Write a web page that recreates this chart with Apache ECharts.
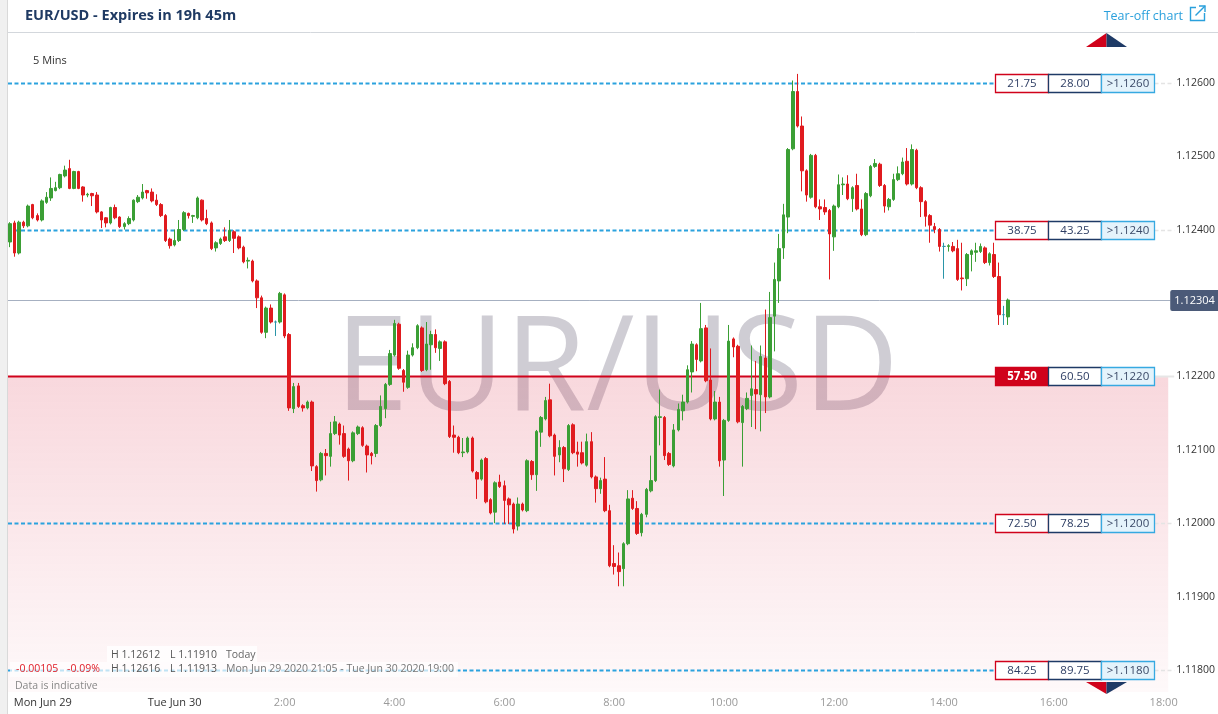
<!DOCTYPE html>
<html><head><meta charset="utf-8">
<script src="https://cdn.jsdelivr.net/npm/echarts@6/dist/echarts.min.js"></script>
<style>html,body{margin:0;padding:0;background:#fff;}#c{width:1218px;height:714px;}</style>
</head><body><div id="c"></div>
<script>
const startTime = '2020-06-29 21:00';
const stepMinutes = 5;
const opens = [1.12383,1.12409,1.12368,1.12410,1.12405,1.12434,1.12419,1.12413,1.12437,1.12443,
1.12453,1.12457,1.12473,1.12483,1.12456,1.12479,1.12458,1.12447,1.12449,1.12447,
1.12424,1.12416,1.12409,1.12430,1.12417,1.12404,1.12408,1.12413,1.12438,1.12443,
1.12453,1.12451,1.12440,1.12434,1.12419,1.12387,1.12379,1.12385,1.12400,1.12422,
1.12418,1.12416,1.12440,1.12415,1.12409,1.12375,1.12381,1.12390,1.12385,1.12397,
1.12390,1.12376,1.12357,1.12357,1.12330,1.12307,1.12260,1.12293,1.12274,1.12274,
1.12311,1.12257,1.12156,1.12187,1.12160,1.12157,1.12165,1.12077,1.12059,1.12095,
1.12091,1.12122,1.12135,1.12122,1.12101,1.12085,1.12122,1.12130,1.12105,1.12095,
1.12095,1.12133,1.12156,1.12189,1.12229,1.12271,1.12208,1.12185,1.12229,1.12239,
1.12266,1.12209,1.12243,1.12257,1.12238,1.12247,1.12193,1.12120,1.12117,1.12096,
1.12097,1.12116,1.12069,1.12060,1.12088,1.12032,1.12015,1.12056,1.12051,1.12033,
1.12026,1.11996,1.12026,1.12017,1.12084,1.12066,1.12124,1.12142,1.12168,1.12120,
1.12093,1.12103,1.12073,1.12134,1.12097,1.12096,1.12079,1.12111,1.12063,1.12047,
1.12060,1.12017,1.11945,1.11942,1.11938,1.11972,1.12034,1.12020,1.11987,1.12012,
1.12044,1.12058,1.12144,1.12144,1.12095,1.12078,1.12127,1.12153,1.12165,1.12206,
1.12243,1.12221,1.12266,1.12195,1.12142,1.12165,1.12086,1.12140,1.12251,1.12241,
1.12137,1.12156,1.12174,1.12182,1.12175,1.12225,1.12172,1.12282,1.12330,1.12375,
1.12417,1.12510,1.12588,1.12541,1.12480,1.12444,1.12501,1.12431,1.12430,1.12426,
1.12390,1.12431,1.12461,1.12462,1.12442,1.12460,1.12428,1.12393,1.12446,1.12486,
1.12489,1.12460,1.12431,1.12441,1.12468,1.12476,1.12493,1.12462,1.12508,1.12457,
1.12438,1.12419,1.12404,1.12400,1.12377,1.12377,1.12377,1.12374,1.12334,1.12333,
1.12366,1.12369,1.12370,1.12375,1.12355,1.12366,1.12336,1.12284,1.12281];
const closes = [1.12408,1.12368,1.12410,1.12405,1.12432,1.12416,1.12413,1.12439,1.12444,1.12456,
1.12457,1.12475,1.12481,1.12456,1.12479,1.12456,1.12447,1.12448,1.12446,1.12424,
1.12413,1.12409,1.12430,1.12416,1.12404,1.12408,1.12415,1.12440,1.12444,1.12451,
1.12450,1.12439,1.12434,1.12419,1.12385,1.12378,1.12385,1.12400,1.12423,1.12419,
1.12419,1.12443,1.12413,1.12408,1.12374,1.12382,1.12387,1.12385,1.12399,1.12388,
1.12375,1.12356,1.12358,1.12330,1.12307,1.12260,1.12293,1.12274,1.12274,1.12313,
1.12255,1.12157,1.12186,1.12159,1.12157,1.12165,1.12078,1.12058,1.12095,1.12092,
1.12122,1.12138,1.12120,1.12091,1.12085,1.12123,1.12131,1.12106,1.12093,1.12092,
1.12133,1.12159,1.12189,1.12231,1.12272,1.12211,1.12192,1.12229,1.12239,1.12269,
1.12208,1.12244,1.12257,1.12239,1.12247,1.12190,1.12118,1.12117,1.12096,1.12097,
1.12116,1.12071,1.12060,1.12086,1.12029,1.12014,1.12055,1.12050,1.12031,1.12025,
1.11992,1.12026,1.12018,1.12085,1.12066,1.12125,1.12144,1.12167,1.12119,1.12091,
1.12103,1.12074,1.12133,1.12096,1.12094,1.12082,1.12111,1.12063,1.12047,1.12058,
1.12017,1.11942,1.11941,1.11934,1.11972,1.12033,1.12020,1.11986,1.12012,1.12046,
1.12058,1.12145,1.12145,1.12092,1.12080,1.12127,1.12155,1.12165,1.12209,1.12244,
1.12223,1.12265,1.12194,1.12142,1.12165,1.12085,1.12140,1.12248,1.12240,1.12138,
1.12159,1.12170,1.12183,1.12176,1.12227,1.12172,1.12280,1.12332,1.12374,1.12420,
1.12509,1.12588,1.12541,1.12480,1.12447,1.12501,1.12431,1.12428,1.12424,1.12394,
1.12432,1.12461,1.12462,1.12442,1.12457,1.12428,1.12393,1.12449,1.12486,1.12490,
1.12460,1.12432,1.12441,1.12468,1.12476,1.12492,1.12462,1.12509,1.12457,1.12438,
1.12418,1.12406,1.12400,1.12377,1.12377,1.12378,1.12371,1.12332,1.12333,1.12366,
1.12371,1.12371,1.12377,1.12355,1.12367,1.12336,1.12284,1.12284,1.12304];
const lows = [1.12376,1.12363,1.12366,1.12402,1.12403,1.12414,1.12411,1.12411,1.12435,1.12439,
1.12452,1.12455,1.12471,1.12455,1.12455,1.12455,1.12438,1.12444,1.12432,1.12422,
1.12402,1.12403,1.12407,1.12414,1.12402,1.12400,1.12406,1.12411,1.12436,1.12441,
1.12442,1.12437,1.12432,1.12417,1.12383,1.12374,1.12377,1.12383,1.12398,1.12415,
1.12409,1.12414,1.12411,1.12406,1.12372,1.12370,1.12379,1.12383,1.12383,1.12368,
1.12373,1.12354,1.12347,1.12328,1.12293,1.12258,1.12252,1.12272,1.12255,1.12272,
1.12252,1.12153,1.12150,1.12157,1.12152,1.12155,1.12071,1.12043,1.12057,1.12065,
1.12077,1.12120,1.12107,1.12089,1.12058,1.12083,1.12120,1.12104,1.12069,1.12080,
1.12090,1.12131,1.12143,1.12187,1.12227,1.12209,1.12179,1.12183,1.12227,1.12237,
1.12206,1.12207,1.12209,1.12232,1.12221,1.12188,1.12116,1.12096,1.12094,1.12090,
1.12095,1.12069,1.12033,1.12058,1.12027,1.12012,1.12000,1.12048,1.11999,1.11999,
1.11986,1.11990,1.12016,1.12015,1.12059,1.12044,1.12104,1.12140,1.12117,1.12065,
1.12083,1.12056,1.12071,1.12094,1.12077,1.12080,1.12077,1.12061,1.12028,1.12040,
1.12015,1.11940,1.11930,1.11914,1.11914,1.11970,1.12018,1.11984,1.11982,1.12008,
1.12042,1.12056,1.12106,1.12086,1.12078,1.12076,1.12125,1.12140,1.12163,1.12178,
1.12207,1.12219,1.12192,1.12140,1.12140,1.12077,1.12037,1.12138,1.12226,1.12136,
1.12077,1.12154,1.12131,1.12128,1.12125,1.12150,1.12170,1.12234,1.12300,1.12360,
1.12395,1.12508,1.12539,1.12452,1.12438,1.12442,1.12429,1.12413,1.12420,1.12332,
1.12371,1.12429,1.12447,1.12440,1.12424,1.12426,1.12391,1.12391,1.12444,1.12484,
1.12458,1.12423,1.12426,1.12439,1.12466,1.12474,1.12460,1.12460,1.12455,1.12417,
1.12404,1.12382,1.12395,1.12370,1.12333,1.12370,1.12369,1.12330,1.12317,1.12323,
1.12343,1.12356,1.12368,1.12353,1.12351,1.12334,1.12270,1.12270,1.12270];
const highs = [1.12410,1.12412,1.12412,1.12412,1.12434,1.12435,1.12422,1.12441,1.12451,1.12471,
1.12465,1.12476,1.12487,1.12495,1.12480,1.12480,1.12459,1.12450,1.12450,1.12451,
1.12425,1.12417,1.12431,1.12434,1.12418,1.12410,1.12418,1.12441,1.12447,1.12462,
1.12454,1.12456,1.12448,1.12436,1.12421,1.12389,1.12400,1.12413,1.12425,1.12423,
1.12420,1.12445,1.12441,1.12427,1.12411,1.12384,1.12389,1.12403,1.12413,1.12399,
1.12392,1.12378,1.12362,1.12359,1.12332,1.12310,1.12295,1.12298,1.12276,1.12315,
1.12313,1.12259,1.12191,1.12191,1.12162,1.12167,1.12167,1.12079,1.12097,1.12101,
1.12138,1.12146,1.12137,1.12133,1.12103,1.12125,1.12133,1.12132,1.12107,1.12097,
1.12135,1.12174,1.12191,1.12236,1.12277,1.12273,1.12210,1.12235,1.12245,1.12271,
1.12268,1.12274,1.12262,1.12264,1.12249,1.12249,1.12195,1.12133,1.12119,1.12116,
1.12118,1.12118,1.12071,1.12088,1.12090,1.12034,1.12057,1.12066,1.12058,1.12035,
1.12028,1.12035,1.12028,1.12087,1.12086,1.12127,1.12146,1.12172,1.12190,1.12122,
1.12113,1.12105,1.12135,1.12136,1.12111,1.12111,1.12122,1.12124,1.12065,1.12062,
1.12090,1.12025,1.11970,1.11960,1.11974,1.12045,1.12045,1.12030,1.12014,1.12048,
1.12092,1.12147,1.12182,1.12146,1.12097,1.12135,1.12163,1.12175,1.12215,1.12248,
1.12245,1.12300,1.12270,1.12238,1.12180,1.12172,1.12142,1.12270,1.12253,1.12243,
1.12161,1.12178,1.12242,1.12221,1.12242,1.12291,1.12315,1.12355,1.12394,1.12435,
1.12511,1.12603,1.12612,1.12554,1.12482,1.12503,1.12503,1.12441,1.12441,1.12428,
1.12434,1.12475,1.12471,1.12474,1.12459,1.12476,1.12441,1.12451,1.12488,1.12496,
1.12491,1.12462,1.12443,1.12476,1.12486,1.12498,1.12511,1.12516,1.12510,1.12459,
1.12440,1.12421,1.12409,1.12402,1.12382,1.12380,1.12383,1.12386,1.12382,1.12368,
1.12373,1.12382,1.12381,1.12377,1.12369,1.12382,1.12355,1.12296,1.12306];

const levels = [1.1260, 1.1240, 1.1220, 1.1200, 1.1180];
const bidLabels = ['21.75', '38.75', '57.50', '72.50', '84.25'];
const offerLabels = ['28.00', '43.25', '60.50', '78.25', '89.75'];
const strikeLabels = ['>1.1260', '>1.1240', '>1.1220', '>1.1200', '>1.1180'];
const selectedLevel = 1.1220;
const lastPrice = 1.12304;

const yTicks = [1.118, 1.119, 1.120, 1.121, 1.122, 1.123, 1.124, 1.125, 1.126];
const yMin = 1.1177, yMax = 1.12665;
const xTickTimes = ['2020-06-29 21:36', '2020-06-30 00:00', '2020-06-30 02:00', '2020-06-30 04:00', '2020-06-30 06:00', '2020-06-30 08:00', '2020-06-30 10:00', '2020-06-30 12:00', '2020-06-30 14:00', '2020-06-30 16:00', '2020-06-30 18:00'];
const xTickLabels = ['Mon Jun 29', 'Tue Jun 30', '2:00', '4:00', '6:00', '8:00', '10:00', '12:00', '14:00', '16:00', '18:00'];
const xMinTime = '2020-06-29 20:58', xMaxTime = '2020-06-30 18:05';
const axisOrigin = '2020-06-30 00:00';

// minutes relative to axisOrigin
function tm(s) {
  const f = str => { const [d, t] = str.split(' '); const [Y, M, D] = d.split('-').map(Number); const [h, m] = t.split(':').map(Number); return Date.UTC(Y, M - 1, D, h, m); };
  return (f(s) - f(axisOrigin)) / 60000;
}
const t0 = tm(startTime);
const candleData = opens.map((o, i) => [t0 + i * stepMinutes, o, closes[i], lows[i], highs[i]]);
const xTickMin = xTickTimes.map(tm);

const FONT = '"Segoe UI","Open Sans","Noto Sans",sans-serif';
const RED = '#e01b1f', GREEN = '#3b9f35', NAVY = '#1e3a66', BLUE = '#2ba2de', SEL = '#d0021b';

const chart = echarts.init(document.getElementById('c'), null, {renderer: 'canvas'});

const option = {
  animation: false,
  textStyle: {fontFamily: FONT},
  grid: {left: 8, right: 48.4, top: 35, bottom: 22, containLabel: false},
  xAxis: {
    type: 'value', min: tm(xMinTime), max: tm(xMaxTime),
    axisLine: {show: false}, axisTick: {show: false}, splitLine: {show: false},
    axisLabel: {
      customValues: xTickMin, margin: 5, fontSize: 11, fontFamily: FONT,
      formatter: function (v) {
        let best = 0, bd = Infinity;
        xTickMin.forEach((m, i) => { const d = Math.abs(m - v); if (d < bd) { bd = d; best = i; } });
        return (best < 2 ? '{d|' : '{g|') + xTickLabels[best] + '}';
      },
      rich: {d: {color: '#333', fontSize: 11, fontFamily: FONT}, g: {color: '#9a9a9a', fontSize: 11, fontFamily: FONT}}
    }
  },
  yAxis: {
    type: 'value', position: 'right', min: yMin, max: yMax, scale: true,
    axisLine: {show: false}, axisTick: {show: false}, splitLine: {show: false},
    axisLabel: {customValues: yTicks, margin: 8, color: '#333', fontSize: 10.5, fontFamily: FONT,
      formatter: v => v.toFixed(5)}
  },
  series: [
    {
      type: 'candlestick', name: 'EUR/USD', data: candleData, encode: {x: 0, y: [1, 2, 3, 4]},
      barWidth: 3, z: 5,
      itemStyle: {color: GREEN, color0: RED, borderColor: GREEN, borderColor0: RED, borderWidth: 1, borderColorDoji: '#2a95a8'},
      markArea: {
        silent: true,
        itemStyle: {color: new echarts.graphic.LinearGradient(0, 0, 0, 1, [
          {offset: 0, color: 'rgba(222,60,85,0.20)'}, {offset: 1, color: 'rgba(222,60,85,0.03)'}])},
        data: [[{yAxis: selectedLevel}, {yAxis: yMin}]]
      }
    },
    {
      type: 'custom', name: 'levels', z: 4, silent: true, clip: false,
      data: levels.map(l => [tm(xMinTime), l]), encode: {x: 0, y: 1},
      renderItem: function (params, api) {
        const cs = params.coordSys;
        const i = params.dataIndex;
        const y = Math.round(api.coord([api.value(0), api.value(1)])[1]) + 0.5;
        const right = cs.x + cs.width;
        const bx = Math.round(right - 173.5) + 0.5, w = 53, h = 18;
        const sel = levels[i] === selectedLevel;
        const children = [];
        children.push({type: 'line', shape: {x1: cs.x, y1: y, x2: bx, y2: y},
          style: sel ? {stroke: SEL, lineWidth: 2} : {stroke: BLUE, lineWidth: 1.9, lineDash: [4, 2.5]}});
        children.push({type: 'line', shape: {x1: bx + 3 * w, y1: y, x2: right + 6, y2: y},
          style: sel ? {stroke: '#e6e6e6', lineWidth: 2} : {stroke: '#e4e4e4', lineWidth: 1.5, lineDash: [4, 2.5]}});
        const boxes = [
          {fill: sel ? SEL : '#fff', stroke: SEL, text: bidLabels[i], color: sel ? '#fff' : '#2d3d63', bold: sel},
          {fill: '#fff', stroke: NAVY, text: offerLabels[i], color: '#2d3d63'},
          {fill: '#e4f3fb', stroke: '#36a9e1', text: strikeLabels[i], color: '#3b4a68'}
        ];
        boxes.forEach((b, k) => {
          const x = bx + k * w;
          children.push({type: 'rect', shape: {x: x, y: y - h / 2, width: w, height: h},
            style: {fill: b.fill, stroke: b.stroke, lineWidth: 1.3}});
          children.push({type: 'text', x: x + w / 2, y: y + 0.5,
            style: {text: b.text, fill: b.color, textAlign: 'center', textVerticalAlign: 'middle',
              font: (b.bold ? 'bold ' : '') + '11.5px ' + FONT}});
        });
        return {type: 'group', children: children};
      }
    },
    {
      type: 'custom', name: 'last price', z: 4, silent: true, clip: false,
      data: [[tm(xMinTime), lastPrice]], encode: {x: 0, y: 1},
      renderItem: function (params, api) {
        const cs = params.coordSys;
        const y = Math.round(api.coord([api.value(0), api.value(1)])[1]) + 0.5;
        const right = cs.x + cs.width;
        return {type: 'group', children: [
          {type: 'line', shape: {x1: cs.x, y1: y, x2: right + 2, y2: y}, style: {stroke: '#a6b0c1', lineWidth: 1}},
          {type: 'rect', shape: {x: right + 2, y: y - 10.5, width: 50, height: 21, r: 2}, style: {fill: '#4b5a78'}},
          {type: 'text', x: right + 6, y: y + 0.5, style: {text: api.value(1).toFixed(5), fill: '#fff',
            font: '11px ' + FONT, textVerticalAlign: 'middle'}}
        ]};
      }
    }
  ],
  graphic: [
    {type: 'rect', z: 0, shape: {x: 0, y: 0, width: 7, height: 714}, style: {fill: '#f0f0f0'}},
    {type: 'line', z: 0, shape: {x1: 7.5, y1: 0, x2: 7.5, y2: 714}, style: {stroke: '#d9d9d9', lineWidth: 1}},
    {type: 'line', z: 0, shape: {x1: 8, y1: 32.5, x2: 1218, y2: 32.5}, style: {stroke: '#d3d7dc', lineWidth: 1}},
    {type: 'text', z: 10, x: 25, y: 16, style: {text: 'EUR/USD - Expires in 19h 45m', fill: '#1f3a63', font: 'bold 14.5px ' + FONT, textVerticalAlign: 'middle'}},
    {type: 'text', z: 10, x: 1183, y: 16, style: {text: 'Tear-off chart', fill: '#2aa0dc', font: '12.5px ' + FONT, textAlign: 'right', textVerticalAlign: 'middle'}},
    {type: 'polyline', z: 10, shape: {points: [[1196, 7.5], [1190.5, 7.5], [1190.5, 20.5], [1204.5, 20.5], [1204.5, 13]]}, style: {stroke: '#2aa0dc', lineWidth: 1.4, fill: null}},
    {type: 'polyline', z: 10, shape: {points: [[1195.5, 15.5], [1205, 6]]}, style: {stroke: '#2aa0dc', lineWidth: 1.4, fill: null}},
    {type: 'polyline', z: 10, shape: {points: [[1199, 6], [1205, 6], [1205, 12]]}, style: {stroke: '#2aa0dc', lineWidth: 1.4, fill: null}},
    {type: 'text', z: 10, x: 33, y: 61, style: {text: '5 Mins', fill: '#333', font: '11px ' + FONT, textVerticalAlign: 'middle'}},
    {type: 'text', z: 1, x: 617, y: 372, style: {text: 'EUR/USD', fill: 'rgba(105,100,120,0.32)', font: '132px ' + FONT, textAlign: 'center', textVerticalAlign: 'middle'}},
    {type: 'polygon', z: 10, shape: {points: [[1086, 47], [1106.5, 33], [1106.5, 47]]}, style: {fill: SEL}},
    {type: 'polygon', z: 10, shape: {points: [[1106.5, 33], [1127, 47], [1106.5, 47]]}, style: {fill: NAVY}},
    {type: 'polygon', z: 10, shape: {points: [[1086, 682], [1106.5, 682], [1106.5, 694]]}, style: {fill: SEL}},
    {type: 'polygon', z: 10, shape: {points: [[1106.5, 682], [1127, 682], [1106.5, 694]]}, style: {fill: NAVY}},
    {type: 'rect', z: 10, shape: {x: 107, y: 646, width: 150, height: 16}, style: {fill: 'rgba(255,255,255,0.8)'}},
    {type: 'rect', z: 10, shape: {x: 10, y: 662, width: 448, height: 15}, style: {fill: 'rgba(255,255,255,0.7)'}},
    {type: 'text', z: 11, x: 111, y: 655, style: {text: 'H 1.12612', fill: '#555', font: '10.5px ' + FONT, textVerticalAlign: 'middle'}},
    {type: 'text', z: 11, x: 170, y: 655, style: {text: 'L 1.11910', fill: '#555', font: '10.5px ' + FONT, textVerticalAlign: 'middle'}},
    {type: 'text', z: 11, x: 226, y: 655, style: {text: 'Today', fill: '#666', font: '10.5px ' + FONT, textVerticalAlign: 'middle'}},
    {type: 'text', z: 11, x: 16, y: 669, style: {text: '-0.00105', fill: '#e0202a', font: '10.5px ' + FONT, textVerticalAlign: 'middle'}},
    {type: 'text', z: 11, x: 67, y: 669, style: {text: '-0.09%', fill: '#e0202a', font: '10.5px ' + FONT, textVerticalAlign: 'middle'}},
    {type: 'text', z: 11, x: 111, y: 669, style: {text: 'H 1.12616', fill: '#555', font: '10.5px ' + FONT, textVerticalAlign: 'middle'}},
    {type: 'text', z: 11, x: 170, y: 669, style: {text: 'L 1.11913', fill: '#555', font: '10.5px ' + FONT, textVerticalAlign: 'middle'}},
    {type: 'text', z: 11, x: 226, y: 669, style: {text: 'Mon Jun 29 2020 21:05 - Tue Jun 30 2020 19:00', fill: '#777', font: '10.5px ' + FONT, textVerticalAlign: 'middle'}},
    {type: 'text', z: 11, x: 15, y: 686, style: {text: 'Data is indicative', fill: '#888', font: '10.5px ' + FONT, textVerticalAlign: 'middle'}}
  ]
};
chart.setOption(option);
</script>
</body></html>
